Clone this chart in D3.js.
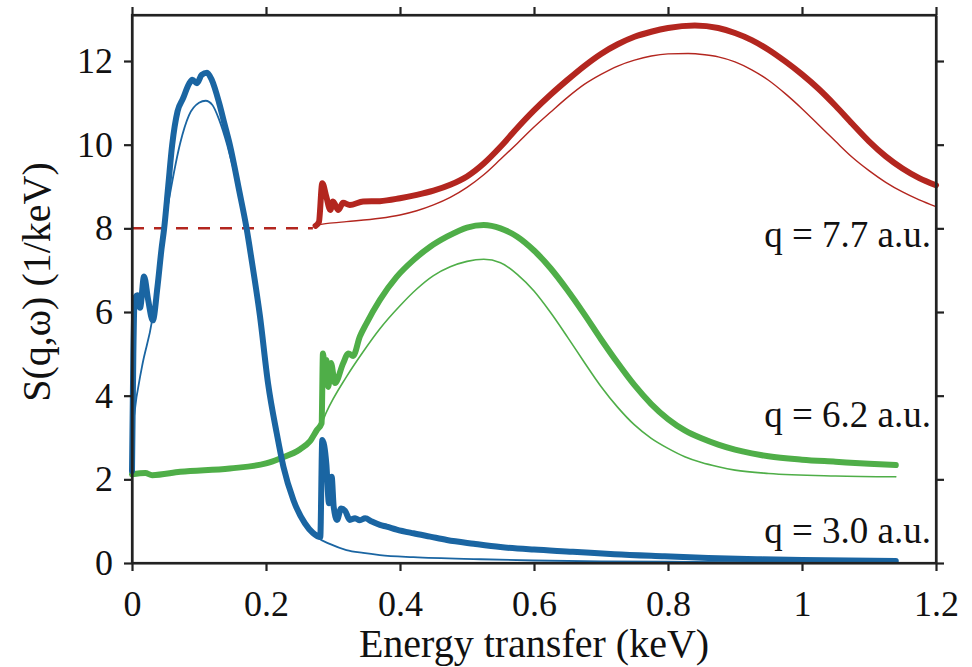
<!DOCTYPE html>
<html>
<head>
<meta charset="utf-8">
<script src="https://cdn.jsdelivr.net/npm/d3@7"></script>
<style>
  html, body { margin: 0; padding: 0; background: #fff; }
  svg text { font-family: "Liberation Serif", "DejaVu Serif", serif !important; fill: #111; }
</style>
</head>
<body>
<svg id="chart" width="972" height="667"></svg>
<script>
// ---------- data ----------
const xTicks = [0, 0.2, 0.4, 0.6, 0.8, 1, 1.2];
const xTickLabels = ["0", "0.2", "0.4", "0.6", "0.8", "1", "1.2"];
const yTicks = [0, 2, 4, 6, 8, 10, 12];
const yTickLabels = ["0", "2", "4", "6", "8", "10", "12"];

// q = 3.0 a.u. (blue)
const blueThickX = [0, 0.002, 0.004, 0.008, 0.012, 0.018, 0.024, 0.031, 0.038, 0.044, 0.048, 0.054, 0.06, 0.068, 0.076, 0.085, 0.09, 0.097, 0.104, 0.112, 0.119, 0.13, 0.138, 0.146, 0.16, 0.171, 0.178, 0.191, 0.203, 0.216, 0.226, 0.241, 0.258, 0.27, 0.281, 0.284, 0.29, 0.294, 0.298, 0.301, 0.306, 0.312, 0.318, 0.325, 0.333, 0.34, 0.348, 0.358, 0.37, 0.38, 0.395, 0.42, 0.445, 0.47, 0.51, 0.55, 0.6, 0.658, 0.72, 0.795, 0.86, 0.933, 1.0, 1.07, 1.14];
const blueThickY = [2.2, 5.0, 6.3, 6.4, 6.1, 6.85, 6.3, 5.8, 6.6, 7.5, 8.0, 9.0, 10.0, 10.8, 11.1, 11.45, 11.55, 11.47, 11.67, 11.72, 11.55, 11.0, 10.5, 10.0, 8.9, 8.0, 7.3, 5.9, 4.3, 3.1, 2.3, 1.5, 0.95, 0.72, 0.62, 2.94, 2.38, 1.43, 2.06, 1.35, 1.03, 1.3, 1.25, 1.03, 1.07, 1.02, 1.07, 0.99, 0.91, 0.87, 0.8, 0.71, 0.63, 0.55, 0.46, 0.38, 0.32, 0.27, 0.21, 0.16, 0.12, 0.09, 0.07, 0.06, 0.05];
const blueThinX = [0, 0.003, 0.015, 0.03, 0.04, 0.048, 0.057, 0.072, 0.085, 0.1, 0.11, 0.12, 0.13, 0.142, 0.16, 0.17, 0.178, 0.19, 0.203, 0.216, 0.226, 0.241, 0.258, 0.276, 0.296, 0.32, 0.345, 0.37, 0.42, 0.52, 0.6, 0.7, 0.8, 0.95, 1.14];
const blueThinY = [3.0, 3.5, 4.7, 5.8, 7.0, 8.0, 8.85, 10.04, 10.7, 11.0, 11.05, 10.95, 10.6, 10.0, 8.8, 7.9, 7.2, 5.85, 4.3, 3.1, 2.3, 1.5, 0.95, 0.62, 0.45, 0.31, 0.24, 0.19, 0.14, 0.09, 0.06, 0.04, 0.03, 0.02, 0.02];

// q = 6.2 a.u. (green)
const greenThickX = [0, 0.02, 0.03, 0.072, 0.146, 0.2, 0.221, 0.251, 0.265, 0.276, 0.283, 0.285, 0.288, 0.29, 0.293, 0.297, 0.303, 0.315, 0.323, 0.33, 0.34, 0.35, 0.37, 0.395, 0.42, 0.445, 0.47, 0.5, 0.525, 0.55, 0.575, 0.6, 0.625, 0.65, 0.675, 0.7, 0.725, 0.75, 0.775, 0.8, 0.825, 0.85, 0.875, 0.9, 0.925, 0.95, 1.0, 1.05, 1.1, 1.14];
const greenThickY = [2.12, 2.15, 2.1, 2.18, 2.26, 2.38, 2.5, 2.72, 2.9, 3.18, 3.34, 5.01, 4.6, 4.85, 4.21, 4.78, 4.3, 4.77, 5.01, 4.95, 5.41, 5.73, 6.29, 6.84, 7.24, 7.56, 7.8, 8.02, 8.08, 8.0, 7.8, 7.47, 7.04, 6.52, 5.95, 5.35, 4.78, 4.25, 3.8, 3.44, 3.17, 2.98, 2.83, 2.71, 2.62, 2.55, 2.47, 2.42, 2.37, 2.34];
const greenThinX = [0.276, 0.283, 0.29, 0.32, 0.345, 0.37, 0.4, 0.425, 0.45, 0.475, 0.5, 0.525, 0.55, 0.575, 0.6, 0.625, 0.65, 0.675, 0.7, 0.725, 0.75, 0.775, 0.8, 0.825, 0.85, 0.875, 0.9, 0.95, 1.05, 1.14];
const greenThinY = [3.18, 3.34, 3.6, 4.45, 5.05, 5.6, 6.15, 6.55, 6.87, 7.08, 7.21, 7.26, 7.18, 6.9, 6.5, 5.98, 5.4, 4.8, 4.22, 3.72, 3.3, 2.98, 2.74, 2.54, 2.4, 2.3, 2.22, 2.14, 2.08, 2.06];

// q = 7.7 a.u. (red)
const redDashX = [0, 0.27];
const redDashY = [8.0, 8.0];
const redThickX = [0.274, 0.279, 0.284, 0.29, 0.296, 0.3, 0.308, 0.315, 0.325, 0.345, 0.37, 0.4, 0.425, 0.45, 0.475, 0.5, 0.525, 0.55, 0.575, 0.6, 0.625, 0.65, 0.675, 0.7, 0.725, 0.75, 0.775, 0.8, 0.84, 0.875, 0.9, 0.925, 0.95, 0.975, 1.0, 1.025, 1.05, 1.075, 1.1, 1.125, 1.15, 1.175, 1.2];
const redThickY = [8.06, 8.15, 9.08, 8.76, 8.44, 8.64, 8.44, 8.61, 8.56, 8.64, 8.65, 8.72, 8.8, 8.9, 9.04, 9.24, 9.55, 9.95, 10.4, 10.82, 11.2, 11.55, 11.88, 12.17, 12.4, 12.58, 12.7, 12.79, 12.85, 12.79, 12.67, 12.5, 12.27, 11.99, 11.68, 11.33, 10.93, 10.5, 10.08, 9.72, 9.43, 9.2, 9.03];
const redThinX = [0.274, 0.3, 0.32, 0.37, 0.4, 0.425, 0.45, 0.475, 0.5, 0.525, 0.55, 0.575, 0.6, 0.625, 0.65, 0.675, 0.7, 0.725, 0.75, 0.775, 0.8, 0.83, 0.855, 0.875, 0.9, 0.925, 0.95, 0.975, 1.0, 1.025, 1.05, 1.075, 1.1, 1.125, 1.15, 1.175, 1.2];
const redThinY = [8.08, 8.13, 8.16, 8.24, 8.32, 8.42, 8.56, 8.74, 8.98, 9.28, 9.65, 10.03, 10.42, 10.78, 11.13, 11.44, 11.68, 11.88, 12.02, 12.12, 12.17, 12.18, 12.15, 12.1, 11.98, 11.79, 11.54, 11.22, 10.86, 10.47, 10.08, 9.7, 9.38, 9.1, 8.87, 8.68, 8.52];

const labelTexts = ["q = 7.7 a.u.", "q = 6.2 a.u.", "q = 3.0 a.u."];
const labelY = [7.55, 3.25, 0.48];

// ---------- layout ----------
const W = 972, H = 667;
const margin = {left: 132, right: 36, top: 15, bottom: 104};
const iw = W - margin.left - margin.right;
const ih = H - margin.top - margin.bottom;
const FONT = '"Liberation Serif", "DejaVu Serif", serif';

const svg = d3.select("#chart");
const g = svg.append("g").attr("transform", `translate(${margin.left},${margin.top})`);

const x = d3.scaleLinear().domain([0, 1.2]).range([0, iw]);
const y = d3.scaleLinear().domain([0, 13.1]).range([ih, 0]);

const colors = {blue: "#1a65a2", green: "#4fae48", red: "#b3261f"};

const zip = (xs, ys) => xs.map((v, i) => [v, ys[i]]);
const line = d3.line().x(d => x(d[0])).y(d => y(d[1])).curve(d3.curveMonotoneX);
const lineLin = d3.line().x(d => x(d[0])).y(d => y(d[1]));

const series = [
  {d: zip(redDashX, redDashY), c: colors.red, w: 2.5, dash: "12,10", gen: lineLin},
  {d: zip(greenThinX, greenThinY), c: colors.green, w: 1.6, gen: line},
  {d: zip(greenThickX, greenThickY), c: colors.green, w: 6, gen: line},
  {d: zip(redThinX, redThinY), c: colors.red, w: 1.4, gen: line},
  {d: zip(redThickX, redThickY), c: colors.red, w: 6, gen: line},
  {d: zip(blueThinX, blueThinY), c: colors.blue, w: 1.8, gen: line},
  {d: zip(blueThickX, blueThickY), c: colors.blue, w: 6, gen: line},
];
series.forEach(s => {
  g.append("path")
    .attr("d", s.gen(s.d))
    .attr("fill", "none")
    .attr("stroke", s.c)
    .attr("stroke-width", s.w)
    .attr("stroke-linejoin", "round")
    .attr("stroke-linecap", s.dash ? "butt" : "round")
    .attr("stroke-dasharray", s.dash || null);
});

// axes
const tickFont = 36;
const fmtX = v => xTickLabels[xTicks.indexOf(v)];
const fmtY = v => yTickLabels[yTicks.indexOf(v)];

const axB = g.append("g").attr("transform", `translate(0,${ih})`)
  .call(d3.axisBottom(x).tickValues(xTicks).tickFormat(fmtX).tickSizeInner(8).tickSizeOuter(0).tickPadding(19));
const axT = g.append("g")
  .call(d3.axisTop(x).tickValues(xTicks).tickFormat("").tickSizeInner(8).tickSizeOuter(0));
const axL = g.append("g")
  .call(d3.axisLeft(y).tickValues(yTicks).tickFormat(fmtY).tickSizeInner(8).tickSizeOuter(0).tickPadding(11));
const axR = g.append("g").attr("transform", `translate(${iw},0)`)
  .call(d3.axisRight(y).tickValues(yTicks).tickFormat("").tickSizeInner(8).tickSizeOuter(0));

[axB, axT, axL, axR].forEach(a => {
  a.attr("font-family", FONT);
  a.select(".domain").attr("stroke", "#222").attr("stroke-width", 2.2);
  a.selectAll(".tick line").attr("stroke", "#222").attr("stroke-width", 2.2);
  a.selectAll("text").attr("font-size", tickFont).style("font-family", FONT).attr("fill", "#111");
});
g.append("rect").attr("x", 0).attr("y", 0).attr("width", iw).attr("height", ih)
  .attr("fill", "none").attr("stroke", "#222").attr("stroke-width", 2.2);

// axis titles
svg.append("text")
  .attr("x", margin.left + iw / 2).attr("y", 657)
  .attr("text-anchor", "middle").attr("font-size", 40).style("font-family", FONT)
  .text("Energy transfer (keV)");
svg.append("text")
  .attr("transform", `translate(50,282) rotate(-90)`)
  .attr("text-anchor", "middle").attr("font-size", 40).style("font-family", FONT)
  .text("S(q,\u03C9) (1/keV)");

// curve labels
g.selectAll(".qlab").data(labelTexts).enter().append("text")
  .attr("class", "qlab")
  .attr("x", iw - 5)
  .attr("y", (d, i) => y(labelY[i]))
  .attr("text-anchor", "end")
  .attr("font-size", 37).style("font-family", FONT)
  .text(d => d);
</script>
</body>
</html>
